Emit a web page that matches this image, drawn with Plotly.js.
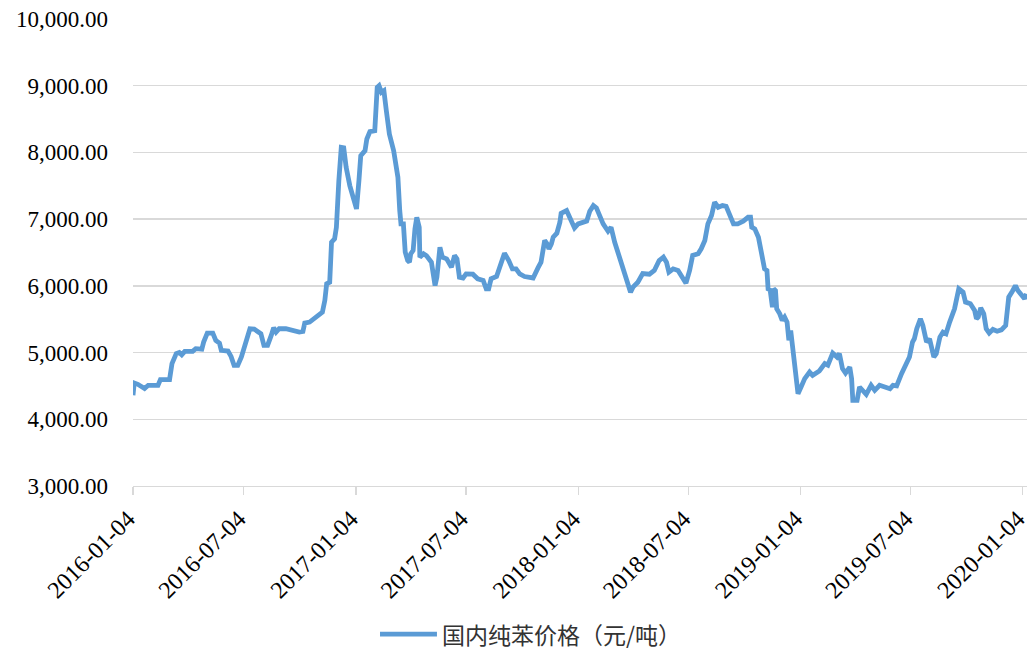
<!DOCTYPE html>
<html>
<head>
<meta charset="utf-8">
<script src="https://cdn.plot.ly/plotly-3.0.1.min.js"></script>
<style>html,body{margin:0;padding:0;background:#fff;}#chart{width:1030px;height:651px;}</style>
</head>
<body>
<div id="chart"></div>
<script>
var seriesName = '国内纯苯价格（元/吨）';
var dates = [
'2016-01-04','2016-01-06','2016-01-12','2016-01-23','2016-01-29','2016-02-14','2016-02-18','2016-03-04','2016-03-08','2016-03-15',
'2016-03-20','2016-03-24','2016-03-29','2016-04-11','2016-04-16','2016-04-26','2016-04-29','2016-05-05','2016-05-14','2016-05-19',
'2016-05-25','2016-05-28','2016-06-08','2016-06-13','2016-06-18','2016-06-24','2016-06-30','2016-07-04','2016-07-10','2016-07-14',
'2016-07-21','2016-07-28','2016-08-01','2016-08-06','2016-08-12','2016-08-18','2016-08-22','2016-08-26','2016-08-31','2016-09-11',
'2016-09-19','2016-10-03','2016-10-09','2016-10-12','2016-10-20','2016-10-28','2016-11-05','2016-11-10','2016-11-14','2016-11-17',
'2016-11-22','2016-11-25','2016-11-30','2016-12-03','2016-12-07','2016-12-11','2016-12-15','2016-12-19','2016-12-25','2016-12-30',
'2017-01-05','2017-01-09','2017-01-12','2017-01-19','2017-01-22','2017-01-27','2017-02-04','2017-02-08','2017-02-11','2017-02-15',
'2017-02-19','2017-02-23','2017-02-28','2017-03-07','2017-03-14','2017-03-17','2017-03-19','2017-03-23','2017-03-26','2017-03-30',
'2017-04-02','2017-04-04','2017-04-08','2017-04-11','2017-04-14','2017-04-18','2017-04-19','2017-04-25','2017-04-30','2017-05-08',
'2017-05-11','2017-05-14','2017-05-17','2017-05-22','2017-05-26','2017-06-02','2017-06-10','2017-06-15','2017-06-19','2017-06-23',
'2017-06-29','2017-07-04','2017-07-15','2017-07-23','2017-08-01','2017-08-06','2017-08-10','2017-08-14','2017-08-23','2017-08-28',
'2017-09-05','2017-09-12','2017-09-18','2017-09-24','2017-09-30','2017-10-08','2017-10-16','2017-10-22','2017-10-30','2017-11-04',
'2017-11-10','2017-11-14','2017-11-17','2017-11-21','2017-11-24','2017-11-30','2017-12-05','2017-12-07','2017-12-16','2017-12-21',
'2017-12-29','2018-01-04','2018-01-12','2018-01-18','2018-01-23','2018-01-29','2018-02-03','2018-02-08','2018-02-14','2018-02-22',
'2018-02-27','2018-03-05','2018-03-13','2018-03-21','2018-03-27','2018-03-31','2018-04-04','2018-04-12','2018-04-20','2018-05-01',
'2018-05-09','2018-05-17','2018-05-24','2018-05-29','2018-06-02','2018-06-09','2018-06-17','2018-06-23','2018-06-30','2018-07-06',
'2018-07-11','2018-07-20','2018-07-25','2018-07-31','2018-08-05','2018-08-11','2018-08-16','2018-08-22','2018-08-29','2018-09-04',
'2018-09-10','2018-09-16','2018-09-23','2018-10-02','2018-10-10','2018-10-14','2018-10-16','2018-10-21','2018-10-27','2018-10-31',
'2018-11-03','2018-11-06','2018-11-10','2018-11-12','2018-11-15','2018-11-19','2018-11-21','2018-11-24','2018-11-26','2018-12-01',
'2018-12-05','2018-12-09','2018-12-13','2018-12-16','2018-12-19','2018-12-22','2018-12-25','2018-12-28','2018-12-31','2019-01-05',
'2019-01-11','2019-01-19','2019-01-24','2019-02-04','2019-02-13','2019-02-18','2019-02-26','2019-03-05','2019-03-09','2019-03-14',
'2019-03-19','2019-03-26','2019-03-29','2019-03-31','2019-04-07','2019-04-11','2019-04-17','2019-04-22','2019-04-30','2019-05-06',
'2019-05-14','2019-05-22','2019-05-31','2019-06-05','2019-06-11','2019-06-19','2019-06-27','2019-07-02','2019-07-07','2019-07-10',
'2019-07-14','2019-07-20','2019-07-24','2019-07-30','2019-08-04','2019-08-11','2019-08-15','2019-08-21','2019-08-26','2019-08-31',
'2019-09-06','2019-09-14','2019-09-21','2019-09-28','2019-10-02','2019-10-10','2019-10-17','2019-10-20','2019-10-23','2019-10-27',
'2019-11-01','2019-11-05','2019-11-10','2019-11-16','2019-11-23','2019-11-30','2019-12-07','2019-12-12','2019-12-18','2019-12-23',
'2019-12-27','2020-01-01','2020-01-07','2020-01-10'
];
var prices = [
4359,4543,4524,4460,4509,4509,4594,4594,4834,4984,
5000,4966,5018,5018,5058,5050,5157,5292,5292,5183,
5142,5033,5023,4943,4808,4808,4933,5058,5282,5357,
5352,5292,5282,5108,5108,5257,5372,5307,5357,5357,
5332,5307,5317,5442,5457,5507,5557,5606,5781,6031,
6055,6654,6704,6878,7578,8077,8070,7777,7503,7328,
7153,7578,7952,8027,8202,8311,8326,8975,9000,8900,
8925,8625,8276,8027,7628,7129,6929,6929,6505,6380,
6355,6480,6530,6854,7028,6878,6430,6480,6450,6355,
6180,6005,6130,6579,6430,6405,6280,6455,6405,6130,
6118,6180,6175,6105,6080,5955,5955,6105,6140,6280,
6489,6380,6255,6255,6180,6140,6118,6118,6270,6355,
6680,6630,6555,6630,6729,6789,6954,7088,7129,7028,
6869,6929,6944,6970,7118,7203,7168,7039,6929,6819,
6879,6654,6430,6156,6005,5905,5980,6055,6185,6175,
6230,6380,6430,6355,6205,6255,6230,6156,6040,6230,
6455,6480,6555,6680,6929,7054,7253,7178,7203,7193,
7078,6929,6929,6969,7028,7028,6879,6854,6729,6530,
6480,6255,6230,5931,5955,5681,5955,5930,5657,5581,
5482,5532,5457,5183,5332,5108,4783,4534,4384,4483,
4609,4708,4659,4723,4834,4810,4993,4933,4983,4759,
4693,4783,4609,4284,4284,4484,4434,4374,4509,4434,
4509,4484,4459,4509,4500,4684,4858,4933,5157,5207,
5357,5507,5407,5157,5207,4933,4983,5232,5307,5282,
5457,5657,5955,5905,5756,5731,5632,5507,5532,5672,
5581,5357,5292,5347,5320,5340,5407,5831,5920,6005,
5931,5881,5806,5881
];
var xTickVals = ['2016-01-04','2016-07-04','2017-01-04','2017-07-04','2018-01-04','2018-07-04','2019-01-04','2019-07-04','2020-01-04'];
var xTickText = ['2016-01-04','2016-07-04','2017-01-04','2017-07-04','2018-01-04','2018-07-04','2019-01-04','2019-07-04','2020-01-04'];
var yRange = [3000, 10000];
var xRange = ['2016-01-04', '2020-01-11'];
var lineColor = '#5B9BD5';

var trace = {
  x: dates, y: prices, type: 'scatter', mode: 'lines', name: seriesName,
  line: {color: lineColor, width: 4.8, shape: 'linear'}, showlegend: false
};
var serif = '"Liberation Serif", serif';
var legY = -0.317;
var layout = {
  width: 1030, height: 651,
  margin: {l: 133, r: 3, t: 19, b: 165},
  paper_bgcolor: '#ffffff', plot_bgcolor: '#ffffff',
  font: {family: serif, size: 22, color: '#000000'},
  showlegend: false,
  shapes: [{type: 'line', xref: 'paper', yref: 'paper', x0: 0.2763, x1: 0.340, y0: legY, y1: legY,
            line: {color: lineColor, width: 4.8}}],
  annotations: [{xref: 'paper', yref: 'paper', x: 0.3435, y: legY, xanchor: 'left', yanchor: 'middle',
                 showarrow: false, text: seriesName, align: 'left',
                 font: {family: '"Noto Sans CJK SC", sans-serif', size: 23, color: '#333333'}}],
  xaxis: {
    type: 'date', range: xRange, tickmode: 'array', tickvals: xTickVals, ticktext: xTickText,
    tickangle: -45, showgrid: false, showline: true, linecolor: '#d9d9d9', linewidth: 1.3,
    ticks: 'outside', ticklen: 8, tickcolor: '#d9d9d9', tickwidth: 1.3, ticklabeloverflow: 'allow',
    ticklabelshift: -5,
    tickfont: {family: serif, size: 24, color: '#000000'}, zeroline: false
  },
  yaxis: {
    range: yRange, dtick: 1000, tick0: 3000, tickformat: ',.2f',
    showgrid: true, gridcolor: '#d9d9d9', gridwidth: 1.3, showline: false, zeroline: false,
    ticks: '', ticklabelstandoff: 24,
    tickfont: {family: serif, size: 23, color: '#000000'}
  }
};
Plotly.newPlot('chart', [trace], layout, {displayModeBar: false, staticPlot: true});
</script>
</body>
</html>
